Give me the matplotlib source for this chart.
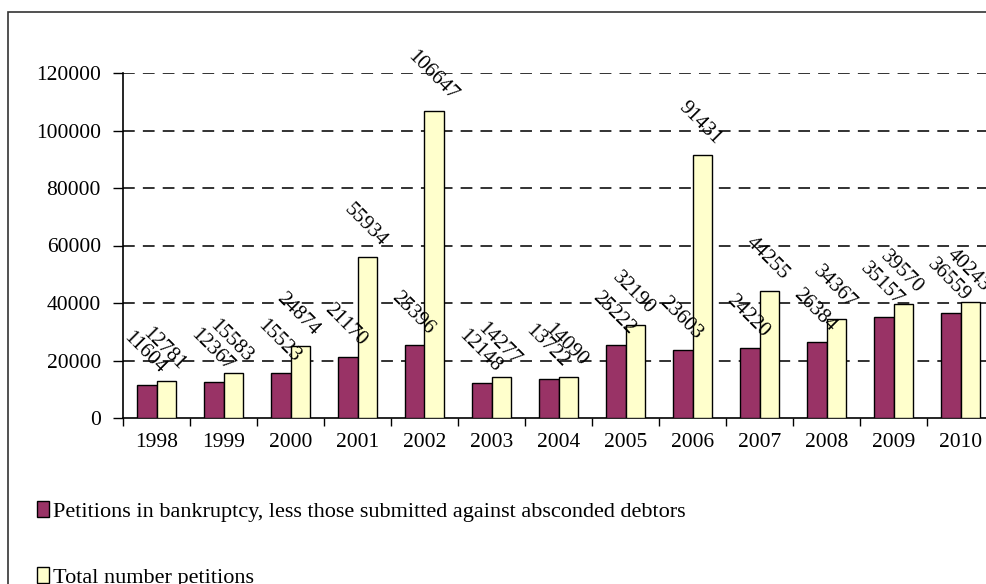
import matplotlib.pyplot as plt
import matplotlib.patches as mpatches
import numpy as np

years = ["1998", "1999", "2000", "2001", "2002", "2003", "2004",
         "2005", "2006", "2007", "2008", "2009", "2010"]
# petitions in bankruptcy minus those against absconded debtors
less_absconded = [11604, 12367, 15523, 21170, 25396, 12148, 13722,
                  25222, 23603, 24220, 26384, 35157, 36559]
total_petitions = [12781, 15583, 24874, 55934, 106647, 14277, 14090,
                   32190, 91431, 44255, 34367, 39570, 40243]

plt.rcParams["font.family"] = ["Liberation Serif", "DejaVu Serif"]
plt.rcParams["font.size"] = 15.5

W, H = 987, 584
fig = plt.figure(figsize=(W / 100, H / 100), dpi=100)
# axes run a little past the right edge of the figure
ax = fig.add_axes([123 / W, 1 - 418 / H, 13 * 67 / W, (418 - 73) / H])

x = np.arange(len(years))
w = 0.29
b1 = ax.bar(x - w / 2, less_absconded, w, color="#993366", edgecolor="black",
            linewidth=1.0, zorder=3,
            label="Petitions in bankruptcy, less those submitted against absconded debtors")
b2 = ax.bar(x + w / 2, total_petitions, w, color="#FFFFCC", edgecolor="black",
            linewidth=1.0, zorder=3, label="Total number petitions")

for bars, vals in ((b1, less_absconded), (b2, total_petitions)):
    for bar, v in zip(bars, vals):
        ax.annotate(str(v), (bar.get_x() + bar.get_width() / 2, v),
                    xytext=(-2, 7), textcoords="offset pixels",
                    rotation=-45, ha="center", va="bottom", fontsize=15,
                    zorder=4)

ax.set_xlim(-0.5, len(years) - 0.5)
ax.set_ylim(0, 120000)
ax.set_yticks(np.arange(0, 120001, 20000))
ax.set_yticklabels([str(v) for v in range(0, 120001, 20000)])
ax.tick_params(axis="y", length=7, width=1, pad=9, direction="out")

# year labels at centres, tick marks at category boundaries
ax.set_xticks(x)
ax.set_xticklabels(years)
ax.set_xticks(np.arange(-0.5, len(years), 1), minor=True)
ax.tick_params(axis="x", which="major", length=0, pad=11)
ax.tick_params(axis="x", which="minor", length=6, width=1, direction="out")

for yv in range(20000, 120001, 20000):
    ax.axhline(yv, color="#222222", linestyle=(0, (6.5, 4.5)), linewidth=1.3,
               zorder=1)

for s in ("top", "right"):
    ax.spines[s].set_visible(False)
for s in ("left", "bottom"):
    ax.spines[s].set_linewidth(1.2)

fig.legend(handles=[b1, b2], loc="upper left",
           bbox_to_anchor=(37 / W, 1 - 501 / H), frameon=False,
           borderpad=0, borderaxespad=0, labelspacing=2.05,
           handlelength=0.55, handleheight=0.7, handletextpad=0.15,
           fontsize=16)

# outer chart frame (left and top edges visible)
frame = mpatches.Rectangle((8 / W, -0.2), 1.2, 1.2 - 12 / H,
                           transform=fig.transFigure, fill=False,
                           edgecolor="#333333", linewidth=1.2, clip_on=False)
fig.patches.append(frame)

fig.savefig("out.png", dpi=100)
